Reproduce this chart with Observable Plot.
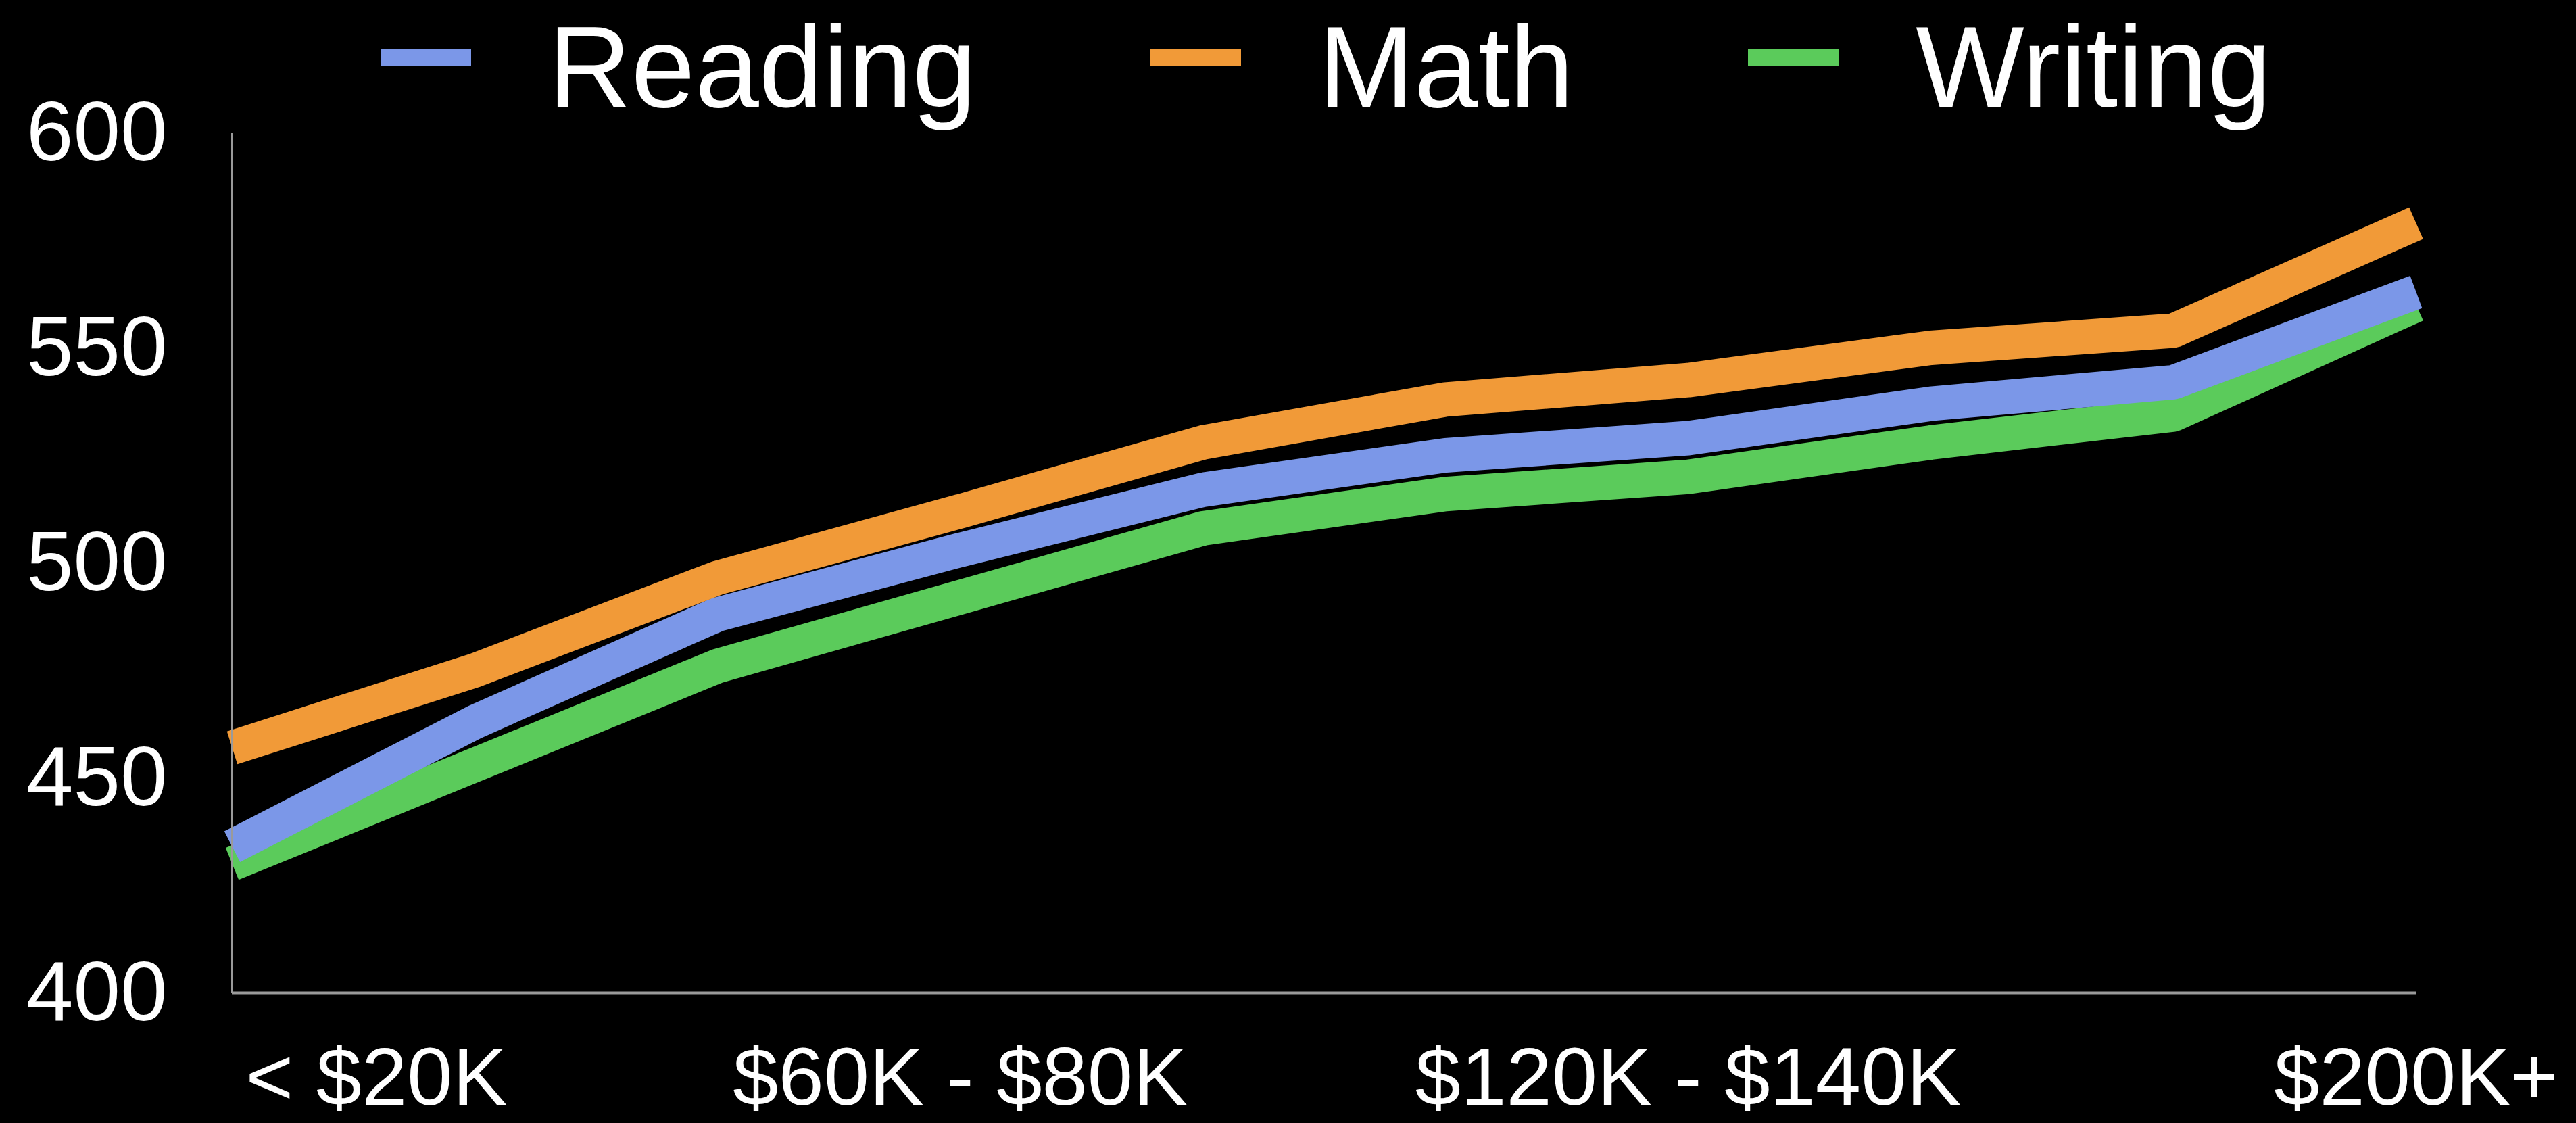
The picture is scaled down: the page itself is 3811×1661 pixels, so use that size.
<!DOCTYPE html>
<html>
<head>
<meta charset="utf-8">
<script src="https://cdn.jsdelivr.net/npm/d3@7"></script>
<script src="https://cdn.jsdelivr.net/npm/@observablehq/plot@0.6"></script>
<style>
  html, body { margin: 0; padding: 0; background: #000; }
  #wrap { position: relative; width: 3811px; height: 1661px; overflow: hidden; background: #000; }
  #legend { position: absolute; top: 14px; left: 563px; display: flex; align-items: flex-start;
            font-family: "Liberation Sans", Arial, Helvetica, sans-serif; font-size: 170px; line-height: 1; color: #fff; z-index: 2; }
  .item { display: flex; align-items: flex-start; margin-right: 258px; }
  .sw { width: 134px; height: 25px; margin-top: 59px; margin-right: 114px; }
  #chart { position: absolute; top: 0; left: 0; }
</style>
</head>
<body>
<div id="wrap">
  <div id="legend"></div>
  <div id="chart"></div>
</div>
<script>
const categories = ["< $20K", "$20K - $40K", "$40K - $60K", "$60K - $80K", "$80K - $100K",
                    "$100K - $120K", "$120K - $140K", "$140K - $160K", "$160K - $200K", "$200K+"];
const seriesNames = ["Reading", "Math", "Writing"];
const seriesColors = ["#7b97e8", "#f19a38", "#5bcb5b"];
const reading = [434, 463, 488, 503, 517, 525, 529, 537, 542, 563];
const math    = [457, 475, 496.5, 512, 528, 538, 542.5, 550, 554, 579];
const writing = [430, 453, 476, 492, 508, 516, 520, 528, 534.5, 560];
const yTicks = [400, 450, 500, 550, 600];
const xTickFirst = ["< $20K"];
const xTicksRest = ["$60K - $80K", "$120K - $140K", "$200K+"];

const values = {Reading: reading, Math: math, Writing: writing};
const drawOrder = ["Writing", "Reading", "Math"];
const rows = drawOrder.flatMap(s => categories.map((c, i) => ({series: s, cat: c, value: values[s][i]})));

// legend
const legend = document.getElementById("legend");
seriesNames.forEach((s, i) => {
  const item = document.createElement("div");
  item.className = "item";
  const sw = document.createElement("div");
  sw.className = "sw";
  sw.style.background = seriesColors[i];
  const t = document.createElement("span");
  t.textContent = s;
  item.appendChild(sw); item.appendChild(t);
  legend.appendChild(item);
});

const font = "Liberation Sans, Arial, Helvetica, sans-serif";
const chart = Plot.plot({
  width: 3811,
  height: 1661,
  marginTop: 196,
  marginBottom: 193,
  marginLeft: 343,
  marginRight: 237,
  style: {background: "#000", color: "#fff", fontFamily: font, overflow: "visible"},
  x: {type: "point", domain: categories, padding: 0},
  y: {domain: [400, 600]},
  color: {domain: seriesNames, range: seriesColors},
  marks: [
    Plot.axisY({ticks: yTicks, tickSize: 0, tickPadding: 96, fontSize: 125, fill: "#fff", label: null}),
    Plot.axisX({ticks: xTickFirst, tickSize: 0, tickPadding: 80, fontSize: 121, fill: "#fff", textAnchor: "start", dx: 20, label: null}),
    Plot.axisX({ticks: xTicksRest, tickSize: 0, tickPadding: 80, fontSize: 121, fill: "#fff", label: null}),
    Plot.line(rows, {x: "cat", y: "value", z: "series", stroke: "series", strokeWidth: 51,
                     strokeLinecap: "butt", strokeLinejoin: "miter"}),
    Plot.ruleY([400], {stroke: "#9a9a9a", strokeWidth: 4}),
    Plot.ruleX([categories[0]], {stroke: "#9a9a9a", strokeWidth: 3})
  ]
});
document.getElementById("chart").appendChild(chart);
</script>
</body>
</html>
